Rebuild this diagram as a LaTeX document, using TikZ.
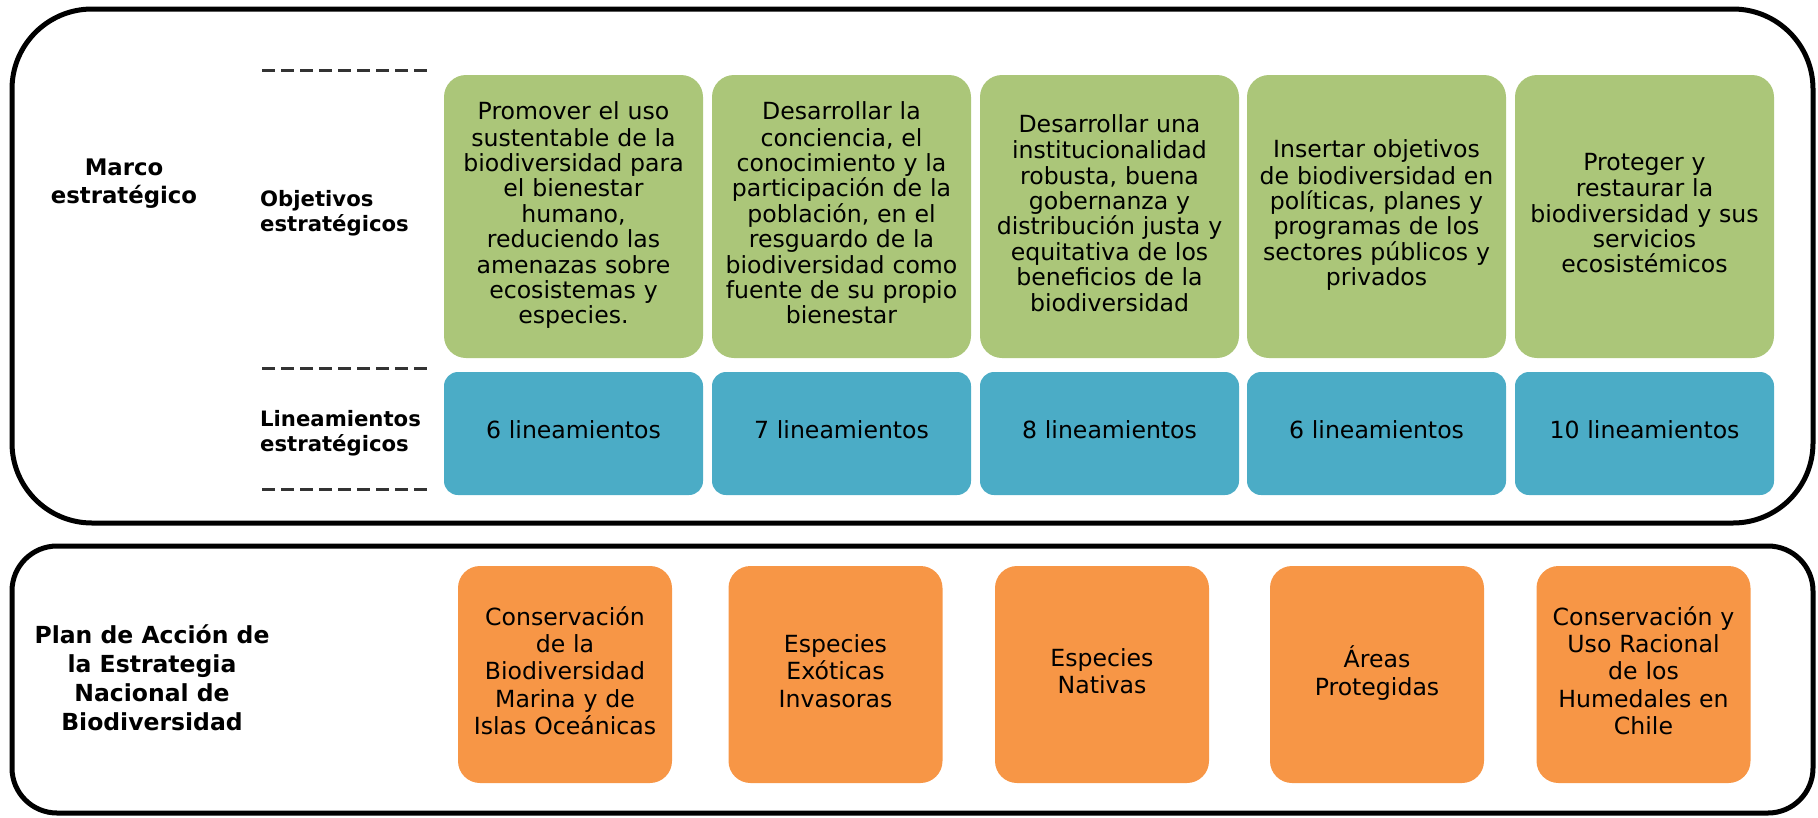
\documentclass[tikz,border=0pt]{standalone}
\usepackage{fontspec}
\setmainfont{DejaVu Sans}
\definecolor{ogreen}{HTML}{ABC679}
\definecolor{oblue}{HTML}{4BACC6}
\definecolor{oorange}{HTML}{F79646}
\definecolor{dashgray}{HTML}{333333}
\begin{document}
\begin{tikzpicture}[x=1pt,y=-1pt,
  frame/.style={draw=black,line width=5pt},
  objbox/.style={fill=ogreen,draw=none,rounded corners=22pt,minimum width=259pt,minimum height=283pt,text width=250pt,align=center,inner sep=0pt,font=\fontsize{23.6}{25.4}\selectfont,execute at begin node=\strut,execute at end node=\strut},
  linbox/.style={fill=oblue,draw=none,rounded corners=14pt,minimum width=259pt,minimum height=123pt,text width=250pt,align=center,inner sep=0pt,font=\fontsize{23.6}{25.4}\selectfont,execute at begin node=\strut},
  planbox/.style={fill=oorange,draw=none,rounded corners=22pt,minimum width=214pt,minimum height=217pt,text width=208pt,align=center,inner sep=0pt,font=\fontsize{23.6}{27.3}\selectfont,execute at begin node=\strut,execute at end node=\strut},
  biglabel/.style={align=center,inner sep=0pt,font=\bfseries\fontsize{22.8}{28}\selectfont,execute at begin node=\strut,execute at end node=\strut},
  sidelabel/.style={anchor=west,align=left,inner sep=0pt,font=\bfseries\fontsize{21.2}{25}\selectfont,execute at begin node=\strut,execute at end node=\strut},
  sep/.style={draw=dashgray,line width=3pt,dash pattern=on 13pt off 6pt}
]
\useasboundingbox (0,0) rectangle (1818,817);

% frames
\draw[frame,rounded corners=80pt] (12,9) rectangle (1813,523);
\draw[frame,rounded corners=45pt] (12,546) rectangle (1813,813);

% labels
\node[biglabel] (marco) at (124,185) {Marco\\estratégico};
\node[sidelabel] (objl) at (260,215) {Objetivos\\estratégicos};
\node[sidelabel] (linl) at (260,435) {Lineamientos\\estratégicos};
\node[biglabel,font=\bfseries\fontsize{23.5}{29.3}\selectfont] (plan) at (152,682) {Plan de Acción de\\la Estrategia\\Nacional de\\Biodiversidad};

% dashed separators
\coordinate (d1a) at (262,70);  \coordinate (d1b) at (433,70);
\coordinate (d2a) at (262,368); \coordinate (d2b) at (433,368);
\coordinate (d3a) at (262,489); \coordinate (d3b) at (433,489);
\draw[sep] (d1a) -- (d1b);
\draw[sep] (d2a) -- (d2b);
\draw[sep] (d3a) -- (d3b);

% objectives
\node[objbox] (o1) at (573.5,216.5) {Promover el uso\\sustentable de la\\biodiversidad para\\el bienestar\\humano,\\reduciendo las\\amenazas sobre\\ecosistemas y\\especies.};
\node[objbox] (o2) at (841.5,216.5) {Desarrollar la\\conciencia, el\\conocimiento y la\\participación de la\\población, en el\\resguardo de la\\biodiversidad como\\fuente de su propio\\bienestar};
\node[objbox] (o3) at (1109.5,216.5) {Desarrollar una\\institucionalidad\\robusta, buena\\gobernanza y\\distribución justa y\\equitativa de los\\beneficios de la\\biodiversidad};
\node[objbox] (o4) at (1376.5,216.5) {Insertar objetivos\\de biodiversidad en\\políticas, planes y\\programas de los\\sectores públicos y\\privados};
\node[objbox] (o5) at (1644.5,216.5) {Proteger y\\restaurar la\\biodiversidad y sus\\servicios\\ecosistémicos};

% lineamientos
\node[linbox] (l1) at (573.5,433.5) {6 lineamientos};
\node[linbox] (l2) at (841.5,433.5) {7 lineamientos};
\node[linbox] (l3) at (1109.5,433.5) {8 lineamientos};
\node[linbox] (l4) at (1376.5,433.5) {6 lineamientos};
\node[linbox] (l5) at (1644.5,433.5) {10 lineamientos};

% plan de accion
\node[planbox] (p1) at (565,674.5) {Conservación\\de la\\Biodiversidad\\Marina y de\\Islas Oceánicas};
\node[planbox] (p2) at (835.5,674.5) {Especies\\Exóticas\\Invasoras};
\node[planbox] (p3) at (1102,674.5) {Especies\\Nativas};
\node[planbox] (p4) at (1377,674.5) {Áreas\\Protegidas};
\node[planbox] (p5) at (1643.5,674.5) {Conservación y\\Uso Racional\\de los\\Humedales en\\Chile};
\end{tikzpicture}
\end{document}
